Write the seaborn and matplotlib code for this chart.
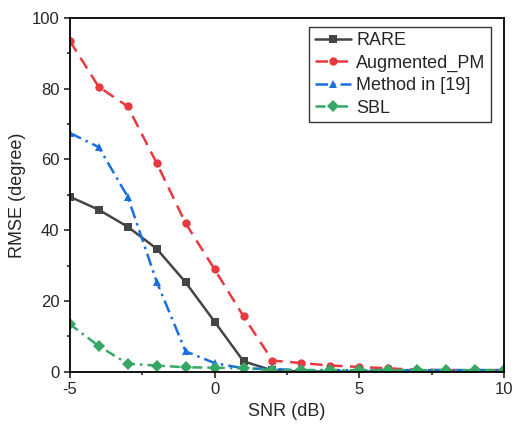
import pandas as pd
import seaborn as sns
from matplotlib import pyplot as plt
from matplotlib.ticker import MultipleLocator

snr = [-5, -4, -3, -2, -1, 0, 1, 2, 3, 4, 5, 6, 7, 8, 9, 10]
rare = [49.5, 45.8, 41.0, 34.8, 25.3, 14.2, 3.0, 0.4, 0.1, 0.1, 0.1, 0.1, 0.1, 0.1, 0.1, 0.1]
augmented_pm = [93.5, 80.5, 75.0, 59.0, 42.0, 29.0, 15.7, 3.2, 2.5, 1.8, 1.4, 1.0, 0.6, 0.5, 0.5, 0.5]
method_19 = [67.5, 63.5, 49.5, 25.5, 5.8, 2.5, 1.0, 0.8, 0.5, 0.5, 0.5, 0.5, 0.5, 0.5, 0.5, 0.5]
sbl = [13.5, 7.3, 2.3, 1.8, 1.3, 1.2, 1.0, 0.5, 0.5, 0.5, 0.5, 0.5, 0.5, 0.5, 0.5, 0.5]

methods = ["RARE", "Augmented_PM", "Method in [19]", "SBL"]
values = [rare, augmented_pm, method_19, sbl]

df = pd.DataFrame({
    "snr": snr * len(methods),
    "rmse": [v for vals in values for v in vals],
    "method": [m for m in methods for _ in snr],
})

sns.set_style("ticks")
plt.rcParams["font.family"] = ["Liberation Sans", "DejaVu Sans"]
plt.rcParams["axes.unicode_minus"] = False

palette = {"RARE": "#454545", "Augmented_PM": "#E8393F",
           "Method in [19]": "#1A6FDF", "SBL": "#36A865"}
markers = {"RARE": "s", "Augmented_PM": "o", "Method in [19]": "^", "SBL": "D"}
dashes = {"RARE": "", "Augmented_PM": (5, 3), "Method in [19]": (5, 2, 1, 2),
          "SBL": (4, 2, 1, 2)}

fig = plt.figure(figsize=(5.17, 4.26), dpi=100)
ax = fig.add_axes([0.135, 0.127, 0.84, 0.831])
sns.lineplot(data=df, x="snr", y="rmse", hue="method", style="method",
             hue_order=methods, style_order=methods,
             palette=palette, markers=markers, dashes=dashes,
             linewidth=1.8, markersize=6, markeredgewidth=0, ax=ax)

ax.set_xlim(-5, 10)
ax.set_ylim(0, 100)
ax.xaxis.set_major_locator(MultipleLocator(5))
ax.xaxis.set_minor_locator(MultipleLocator(2.5))
ax.yaxis.set_major_locator(MultipleLocator(20))
ax.yaxis.set_minor_locator(MultipleLocator(10))
ax.tick_params(axis="both", which="major", labelsize=12, length=4, width=1.2,
               top=False, right=False, direction="out")
ax.tick_params(axis="both", which="minor", length=2.5, width=1.2,
               top=False, right=False, direction="out")
for s in ax.spines.values():
    s.set_linewidth(1.3)
    s.set_color("black")
ax.set_xlabel("SNR (dB)", fontsize=13)
ax.set_ylabel("RMSE (degree)", fontsize=13)

leg = ax.legend(loc="upper right", bbox_to_anchor=(0.97, 0.975), fontsize=13,
                frameon=True, fancybox=False, edgecolor="black",
                handlelength=2.0, handletextpad=0.3, borderpad=0.3,
                labelspacing=0.3, borderaxespad=0)
leg.get_frame().set_linewidth(1.0)

plt.savefig("out.png", dpi=100)
